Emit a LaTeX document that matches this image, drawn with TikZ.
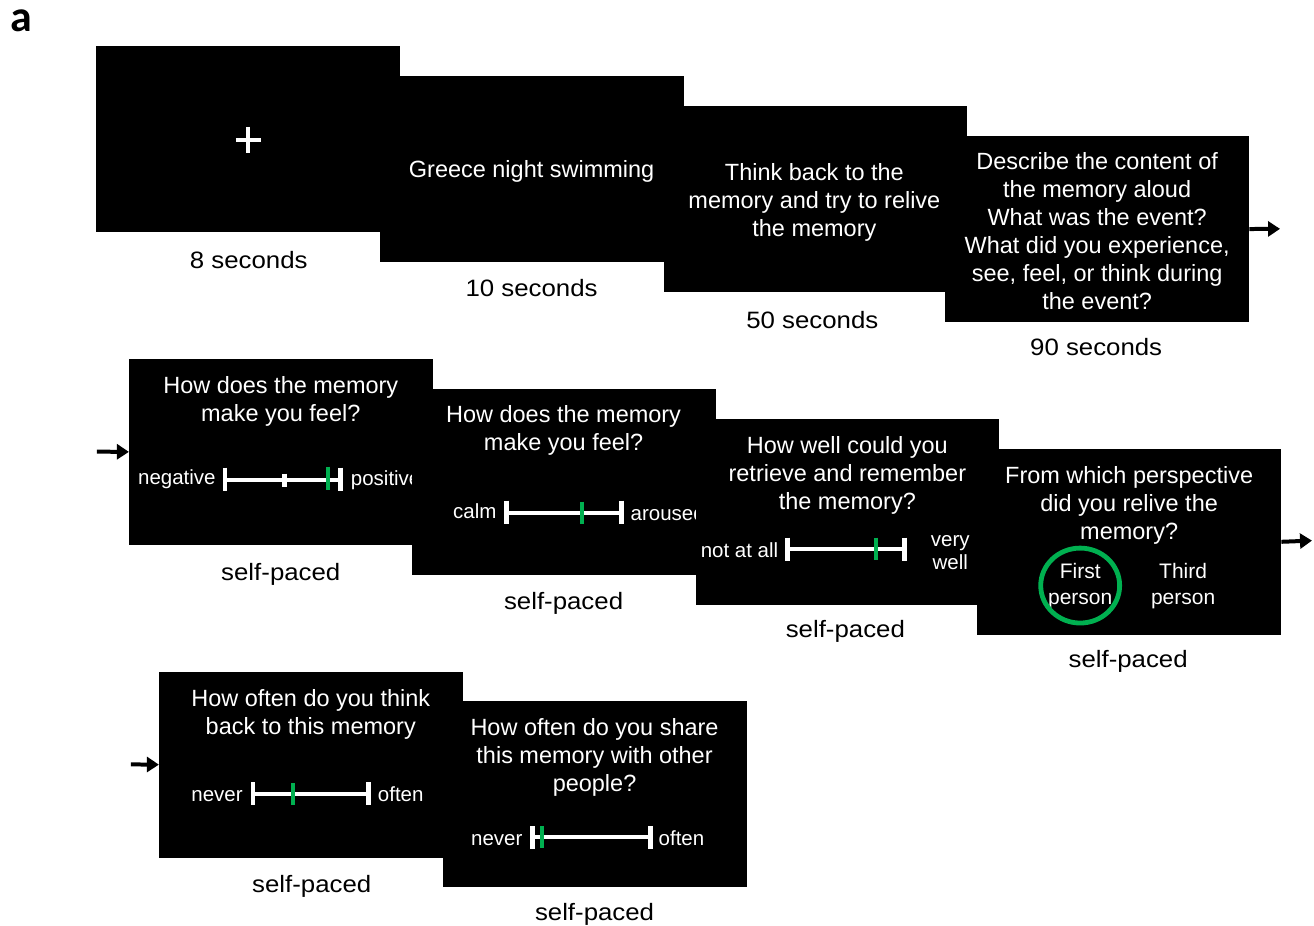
\documentclass[tikz,border=0pt]{standalone}
\usepackage{fontspec}
\setmainfont{Liberation Sans}
\newfontfamily\labelfont{Carlito}
\newfontfamily\capfont[FakeStretch=1.09]{Liberation Sans}
\usetikzlibrary{arrows.meta}
\definecolor{mygreen}{RGB}{0,176,80}
\begin{document}
\begin{tikzpicture}[x=1pt,y=-1pt,
 screen/.style={fill=black, draw=none, minimum width=304pt, minimum height=186pt, inner sep=0pt, anchor=north west},
 stxt/.style={text=white, font=\fontsize{23.5}{28}\selectfont, align=center, inner sep=0pt},
 lbl/.style={text=black, font=\capfont\fontsize{23.7}{28}\selectfont, inner sep=0pt},
 scl/.style={text=white, font=\fontsize{20.5}{24}\selectfont, inner sep=0pt, align=center},
 bar/.style={white, line width=4pt},
 tickmark/.style={white, line width=4.5pt},
 gtick/.style={draw=mygreen, line width=4pt},
 flow/.style={-{Triangle[length=12pt,width=15pt]}, line width=4pt}
]
\fill[white] (0,0) rectangle (1314,925);
\node[font=\labelfont\bfseries\fontsize{44}{48}\selectfont, inner sep=0pt] (lab) at (21,21) {a};

% ---------- row 1 ----------
\node[screen] (s1) at (96,46) {};
\draw[white, line width=4pt] (236,140) -- (261,140) (248.5,127) -- (248.5,153);
\node[lbl] (t1) at (249,260) {8 seconds};

\node[screen] (s2) at (380,76) {};
\node[stxt] (q2) at (532,172) {Greece night swimming};
\node[lbl] (t2) at (532,288) {10 seconds};

\node[screen] (s3) at (664,106) {};
\node[stxt] (q3) at (815,203) {Think back to the\\memory and try to relive\\the memory};
\node[lbl] (t3) at (813,320) {50 seconds};

\node[screen] (s4) at (946,136) {};
\node[stxt] (q4) at (1098,231) {Describe the content of\\the memory aloud\\What was the event?\\What did you experience,\\see, feel, or think during\\the event?};
\node[lbl] (t4) at (1097,347) {90 seconds};
\coordinate (o4) at (1281,229);
\draw[flow] (s4.east) -- (o4);

% ---------- row 2 ----------
\coordinate (i5) at (97,452);
\node[screen] (s5) at (129,359) {};
\draw[flow] (i5) -- (s5.west);
\node[stxt] (q5) at (281,402) {How does the memory\\make you feel?};
\node[scl, anchor=east] (l5) at (216,480) {negative};
\node[scl, anchor=west] (r5) at (351,481) {positive};
\draw[bar] (225,480) -- (341,480);
\draw[tickmark] (225,468) -- (225,491) (341,468) -- (341,491);
\draw[white, line width=5pt] (285,474) -- (285,487);
\draw[gtick] (328,467) -- (328,490);
\node[lbl] (t5) at (281,575) {self-paced};

\node[screen] (s6) at (412,389) {};
\node[stxt] (q6) at (564,431) {How does the memory\\make you feel?};
\node[scl, anchor=east] (l6) at (497,512) {calm};
\node[scl, anchor=west] (r6) at (631,514) {aroused};
\draw[bar] (507,513) -- (622,513);
\draw[tickmark] (507,501) -- (507,524) (622,501) -- (622,524);
\draw[gtick] (582,502) -- (582,524);
\node[lbl] (t6) at (564,604) {self-paced};

\node[screen] (s7) at (696,419) {};
\node[stxt] (q7) at (848,476) {How well could you\\retrieve and remember\\the memory?};
\node[scl, anchor=east] (l7) at (779,551) {not at all};
\node[scl] (r7) at (951,553) {very\\well};
\draw[bar] (788,549) -- (905,549);
\draw[tickmark] (788,538) -- (788,561) (905,538) -- (905,561);
\draw[gtick] (877,538) -- (877,560);
\node[lbl] (t7) at (846,632) {self-paced};

\node[screen] (s8) at (978,449) {};
\node[stxt] (q8) at (1130,506) {From which perspective\\did you relive the\\memory?};
\node[scl, font=\fontsize{21}{26}\selectfont] (f8) at (1081,586.5) {First\\person};
\node[scl, font=\fontsize{21}{26}\selectfont] (h8) at (1184,586.5) {Third\\person};
\draw[mygreen, line width=4.8pt] (1081,586) ellipse [x radius=39.5, y radius=37.5];
\node[lbl] (t8) at (1129,662) {self-paced};
\coordinate (o8) at (1313,541);
\draw[flow] (s8.east) -- (o8);

% ---------- row 3 ----------
\coordinate (i9) at (131,765);
\node[screen] (s9) at (159,672) {};
\draw[flow] (i9) -- (s9.west);
\node[stxt] (q9) at (311,715) {How often do you think\\back to this memory};
\node[scl, anchor=east] (l9) at (243,797) {never};
\node[scl, anchor=west] (r9) at (378,795) {often};
\draw[bar] (253,795) -- (369,795);
\draw[tickmark] (253,783) -- (253,806) (369,783) -- (369,806);
\draw[gtick] (293,784) -- (293,806);
\node[lbl] (t9) at (312,887) {self-paced};

\node[screen] (s10) at (443,701) {};
\node[stxt] (q10) at (595,758) {How often do you share\\this memory with other\\people?};
\node[scl, anchor=east] (l10) at (523,841) {never};
\node[scl, anchor=west] (r10) at (659,839) {often};
\draw[bar] (533,838) -- (651,838);
\draw[tickmark] (533,827) -- (533,850) (651,827) -- (651,850);
\draw[gtick] (542,827) -- (542,849);
\node[lbl] (t10) at (595,915) {self-paced};
\end{tikzpicture}
\end{document}
